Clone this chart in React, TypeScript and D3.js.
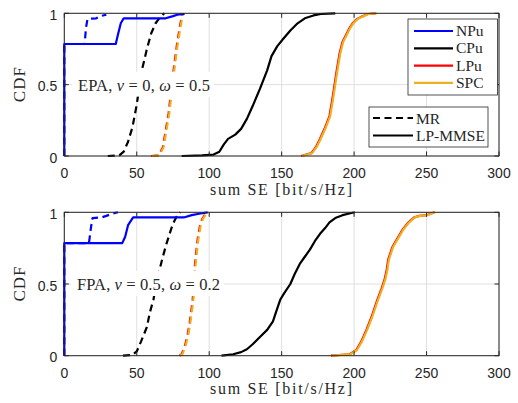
import React from 'react';
import * as d3 from 'd3';

// x = sum SE [bit/s/Hz], y = CDF
const xTicks = [0, 50, 100, 150, 200, 250, 300];
const yTicks = [0, 0.5, 1];

// EPA, nu=0, omega=0.5
const epaNpuMr = [[0, 0], [0, 0.785], [14, 0.785], [15, 0.9], [16, 0.96], [22, 0.965], [25, 0.98], [29, 0.99]];
const epaNpuLp = [[0, 0], [0, 0.785], [35.5, 0.785], [37, 0.85], [39, 0.93], [41, 0.965], [70, 0.965], [75, 0.98], [78, 0.99], [83, 0.995]];
const epaCpuMr = [[30, 0], [38, 0.005], [41, 0.03], [44, 0.1], [47, 0.2], [50, 0.36], [52, 0.5], [54, 0.62], [57, 0.75], [60, 0.86], [63, 0.93], [66, 0.97], [69, 1]];
const epaLpuMr = [[60, 0], [65, 0.005], [68, 0.06], [70, 0.18], [72, 0.3], [74, 0.48], [76, 0.65], [78, 0.8], [80, 0.92], [81.5, 1]];
const epaSpcMr = [[60.5, 0], [65.5, 0.005], [68.5, 0.06], [70.5, 0.18], [72.5, 0.3], [74.5, 0.48], [76.5, 0.65], [78.5, 0.8], [80.5, 0.92], [82, 1]];
const epaCpuLp = [[81, 0], [95, 0.005], [103, 0.01], [107, 0.03], [110, 0.08], [113, 0.12], [118, 0.15], [122, 0.19], [126, 0.26], [130, 0.35], [135, 0.47], [140, 0.6], [143, 0.7], [147, 0.77], [151, 0.82], [156, 0.88], [161, 0.93], [166, 0.965], [172, 0.985], [177, 0.995], [187, 1]];
const epaLpuLp = [[163.5, 0], [170.5, 0.02], [173.5, 0.06], [176, 0.11], [180, 0.2], [183, 0.28], [185, 0.4], [186.5, 0.5], [188, 0.6], [190, 0.72], [192, 0.8], [194.5, 0.85], [197, 0.9], [199, 0.93], [202, 0.96], [205, 0.975], [209.5, 0.995], [215, 1]];
const epaSpcLp = [[164, 0], [171, 0.02], [174, 0.06], [176.5, 0.11], [180.5, 0.2], [183.5, 0.28], [185.5, 0.4], [187, 0.5], [188.5, 0.6], [190.5, 0.72], [192.5, 0.8], [195, 0.85], [197.5, 0.9], [199.5, 0.93], [202.5, 0.96], [205.5, 0.975], [210, 0.995], [215.5, 1]];

// FPA, nu=0.5, omega=0.2
const fpaNpuMr = [[0, 0], [0, 0.785], [17, 0.785], [18.5, 0.9], [19.5, 0.96], [26, 0.965], [29, 0.975], [33, 0.99], [37, 1]];
const fpaNpuLp = [[0, 0], [0, 0.785], [40, 0.785], [42, 0.83], [44, 0.91], [47.5, 0.965], [83, 0.965], [88, 0.98], [93, 0.99], [99, 1]];
const fpaCpuMr = [[40.5, 0], [47, 0.005], [50, 0.03], [53, 0.1], [57, 0.2], [59, 0.3], [61.5, 0.39], [63.5, 0.5], [65.5, 0.59], [68, 0.69], [70.5, 0.78], [73, 0.86], [75, 0.92], [77.5, 0.97], [80, 1]];
const fpaLpuMr = [[79.5, 0], [81, 0.01], [83, 0.06], [85, 0.14], [86.5, 0.23], [88.5, 0.38], [89.5, 0.5], [90, 0.62], [91, 0.72], [92, 0.81], [93.5, 0.9], [95, 0.95], [98, 1]];
const fpaSpcMr = [[80, 0], [81.5, 0.01], [83.5, 0.06], [85.5, 0.14], [87, 0.23], [89, 0.38], [90, 0.5], [90.5, 0.62], [91.5, 0.72], [92.5, 0.81], [94, 0.9], [95.5, 0.95], [98.5, 1]];
const fpaCpuLp = [[108.5, 0], [116.5, 0.01], [122, 0.025], [126, 0.045], [130, 0.08], [135, 0.13], [140, 0.18], [144, 0.24], [146, 0.3], [149, 0.39], [152, 0.44], [156, 0.5], [159, 0.57], [162.5, 0.64], [166, 0.69], [169.5, 0.74], [173, 0.8], [176.5, 0.85], [180, 0.89], [183, 0.93], [187, 0.96], [192, 0.98], [196, 0.99], [200.5, 1]];
const fpaLpuLp = [[184, 0], [197, 0.01], [201.5, 0.04], [205, 0.1], [208.5, 0.18], [212, 0.27], [216, 0.39], [219, 0.47], [221, 0.53], [222.5, 0.6], [223.5, 0.67], [226.5, 0.76], [230, 0.82], [233.5, 0.88], [237.5, 0.93], [241.5, 0.965], [245, 0.975], [250, 0.98], [255.5, 1]];
const fpaSpcLp = [[184.5, 0], [197.5, 0.01], [202, 0.04], [205.5, 0.1], [209, 0.18], [212.5, 0.27], [216.5, 0.39], [219.5, 0.47], [221.5, 0.53], [223, 0.6], [224, 0.67], [227, 0.76], [230.5, 0.82], [234, 0.88], [238, 0.93], [242, 0.965], [245.5, 0.975], [250.5, 0.98], [256, 1]];

const BLUE = '#0000ff';
const BLACK = '#000000';
const RED = '#ff0000';
const ORANGE = '#edb120';
const AX = '#262626';
const GRID = '#dfdfdf';

const L = 64.3, R = 499;

type Pt = number[];
type Curve = { pts: Pt[]; color: string; dash: boolean };

function Panel({ top, bottom, curves, note, noteBox, legends }: {
  top: number; bottom: number; curves: Curve[];
  note: [string, string, string, string, string]; noteBox: [number, number, number];
  legends: boolean;
}) {
  const x = d3.scaleLinear().domain([0, 300]).range([L, R]);
  const y = d3.scaleLinear().domain([0, 1]).range([bottom, top]);
  const line = d3.line<Pt>().x(d => x(d[0])).y(d => y(d[1]));
  const serif = '"Liberation Serif", "DejaVu Serif", serif';
  const sans = '"Liberation Sans", Arial, sans-serif';
  const midY = (top + bottom) / 2;
  return (
    <g>
      {xTicks.map(t => (
        <line key={'gx' + t} x1={x(t)} x2={x(t)} y1={top} y2={bottom} stroke={GRID} strokeWidth={1} />
      ))}
      {yTicks.map(t => (
        <line key={'gy' + t} x1={L} x2={R} y1={y(t)} y2={y(t)} stroke={GRID} strokeWidth={1} />
      ))}
      {curves.map((c, i) => (
        <path key={i} d={line(c.pts) || ''} fill="none" stroke={c.color} strokeWidth={2.2}
          strokeDasharray={c.dash ? '7,4.5' : undefined} strokeLinejoin="round" />
      ))}
      <rect x={L} y={top} width={R - L} height={bottom - top} fill="none" stroke={AX} strokeWidth={1} />
      {xTicks.map(t => (
        <g key={'tx' + t}>
          <line x1={x(t)} x2={x(t)} y1={bottom} y2={bottom - 4.5} stroke={AX} />
          <line x1={x(t)} x2={x(t)} y1={top} y2={top + 4.5} stroke={AX} />
          <text x={x(t)} y={bottom + 22} textAnchor="middle" fontFamily={sans} fontSize={14} fill={AX}>{t}</text>
        </g>
      ))}
      {yTicks.map(t => (
        <g key={'ty' + t}>
          <line x1={L} x2={L + 4.5} y1={y(t)} y2={y(t)} stroke={AX} />
          <line x1={R} x2={R - 4.5} y1={y(t)} y2={y(t)} stroke={AX} />
          <text x={L - 7} y={y(t) + 6.5} textAnchor="end" fontFamily={sans} fontSize={14} fill={AX}>{t}</text>
        </g>
      ))}
      <text x={210} y={bottom + 38.5} textLength={142} lengthAdjust="spacing" fontFamily={serif} fontSize={16} fill={AX}>sum SE [bit/s/Hz]</text>
      <text transform={`translate(25,${midY}) rotate(-90)`} textAnchor="middle" textLength={35} lengthAdjust="spacing" fontFamily={serif} fontSize={17} fill={AX}>CDF</text>
      <rect x={noteBox[0] - 6} y={midY - 13} width={noteBox[1] + 10} height={25} fill="#fff" />
      <text x={noteBox[0]} y={midY + 6} textLength={noteBox[1]} lengthAdjust="spacing" fontFamily={serif} fontSize={noteBox[2]} fill={AX}>
        {note[0]}<tspan fontStyle="italic">{note[1]}</tspan>{note[2]}<tspan fontStyle="italic">{note[3]}</tspan>{note[4]}
      </text>
      {legends && (
        <g fontFamily={serif} fontSize={15.5} fill={AX}>
          <rect x={408} y={19} width={89.5} height={76} fill="#fff" stroke={AX} strokeWidth={0.8} />
          {[['NPu', BLUE], ['CPu', BLACK], ['LPu', RED], ['SPC', ORANGE]].map(([n, c], i) => (
            <g key={n}>
              <line x1={414} x2={453} y1={31 + i * 17.3} y2={31 + i * 17.3} stroke={c} strokeWidth={2.2} />
              <text x={456} y={36 + i * 17.3}>{n}</text>
            </g>
          ))}
          <rect x={369} y={107} width={119} height={40} fill="#fff" stroke={AX} strokeWidth={0.8} />
          {[['MR', true], ['LP-MMSE', false]].map(([n, d], i) => (
            <g key={n as string}>
              <line x1={373} x2={413} y1={118 + i * 17.5} y2={118 + i * 17.5} stroke={BLACK} strokeWidth={2.2}
                strokeDasharray={d ? '7,4.5' : undefined} />
              <text x={416} y={123.5 + i * 17.5}>{n as string}</text>
            </g>
          ))}
        </g>
      )}
    </g>
  );
}

export default function App() {
  const topCurves: Curve[] = [
    { pts: epaCpuLp, color: BLACK, dash: false },
    { pts: epaLpuLp, color: RED, dash: false },
    { pts: epaSpcLp, color: ORANGE, dash: false },
    { pts: epaCpuMr, color: BLACK, dash: true },
    { pts: epaLpuMr, color: RED, dash: true },
    { pts: epaSpcMr, color: ORANGE, dash: true },
    { pts: epaNpuMr, color: BLUE, dash: true },
    { pts: epaNpuLp, color: BLUE, dash: false },
  ];
  const botCurves: Curve[] = [
    { pts: fpaCpuLp, color: BLACK, dash: false },
    { pts: fpaLpuLp, color: RED, dash: false },
    { pts: fpaSpcLp, color: ORANGE, dash: false },
    { pts: fpaCpuMr, color: BLACK, dash: true },
    { pts: fpaLpuMr, color: RED, dash: true },
    { pts: fpaSpcMr, color: ORANGE, dash: true },
    { pts: fpaNpuMr, color: BLUE, dash: true },
    { pts: fpaNpuLp, color: BLUE, dash: false },
  ];
  return (
    <svg width={518} height={403} style={{ position: 'absolute', left: 0, top: 0, background: '#fff' }}>
      <Panel top={13.3} bottom={156} curves={topCurves}
        note={['EPA, ', 'ν', ' = 0, ', 'ω', ' = 0.5']} noteBox={[78, 132, 16.5]} legends={true} />
      <Panel top={212.3} bottom={355.7} curves={botCurves}
        note={['FPA, ', 'ν', ' = 0.5, ', 'ω', ' = 0.2']} noteBox={[77, 143, 16.5]} legends={false} />
    </svg>
  );
}
